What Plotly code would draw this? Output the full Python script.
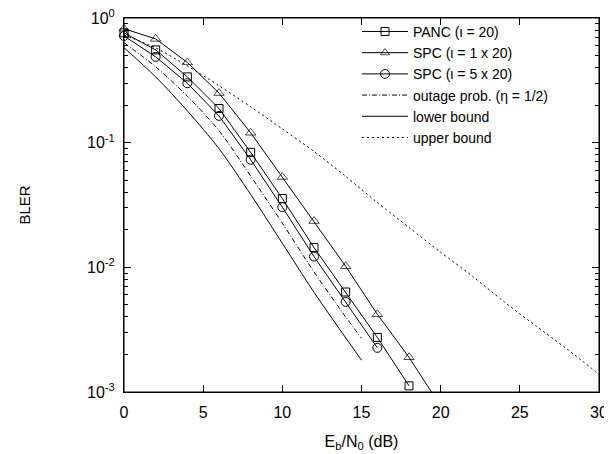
import plotly.graph_objects as go

# ---- data ----
snr_panc = [0, 2, 4, 6, 8, 10, 12, 14, 16, 18]
bler_panc = [0.76, 0.555, 0.337, 0.188, 0.0836, 0.0356, 0.0144, 0.00634, 0.00274, 0.00112]

snr_spc1 = [0, 2, 4, 6, 8, 10, 12, 14, 16, 18, 20]
bler_spc1 = [0.82, 0.68, 0.44, 0.25, 0.12, 0.053, 0.0235, 0.0102, 0.0042, 0.0019, 0.00077]

snr_spc5 = [0, 2, 4, 6, 8, 10, 12, 14, 16]
bler_spc5 = [0.718, 0.488, 0.30, 0.164, 0.073, 0.0304, 0.0122, 0.00528, 0.00226]

snr_bound = [0, 2, 4, 6, 8, 10, 12, 14, 15]
bler_outage = [0.634, 0.406, 0.236, 0.125, 0.054, 0.0226, 0.0092, 0.0040, 0.0027]
bler_lower = [0.578, 0.337, 0.180, 0.0895, 0.0384, 0.0156, 0.00631, 0.00272, 0.0018]

snr_upper = [0, 2, 4, 6, 8, 10, 12, 14, 16, 18, 20, 22, 24, 26, 28, 30]
bler_upper = [0.73, 0.575, 0.413, 0.286, 0.194, 0.129, 0.085, 0.0537, 0.0331,
              0.0209, 0.0132, 0.0085, 0.0053, 0.0034, 0.0022, 0.00139]

x_ticks = [0, 5, 10, 15, 20, 25, 30]
y_ticks = [1, 0.1, 0.01, 0.001]
y_ticktext = ["10<sup>0</sup>", "10<sup>-1</sup>", "10<sup>-2</sup>", "10<sup>-3</sup>"]

names = ["PANC (\u03b9 = 20)", "SPC (\u03b9 = 1 x 20)", "SPC (\u03b9 = 5 x 20)",
         "outage prob. (\u03b7 = 1/2)", "lower bound", "upper bound"]

FONT = "Liberation Sans, Arial, Helvetica, sans-serif"
BLACK = "#000000"

fig = go.Figure()

def marker_trace(x, y, name, symbol, sizes):
    return go.Scatter(
        x=x, y=y, name=name, mode="lines+markers",
        line=dict(color=BLACK, width=1),
        marker=dict(symbol=symbol, size=sizes, color=BLACK,
                    line=dict(color=BLACK, width=1)),
        cliponaxis=False,
    )

fig.add_trace(marker_trace(snr_panc, bler_panc, names[0], "square-open", 8))
spc1_sizes = [9 if v >= 0.001 else 0 for v in bler_spc1]
fig.add_trace(marker_trace(snr_spc1, bler_spc1, names[1], "triangle-up-open", spc1_sizes))
fig.add_trace(marker_trace(snr_spc5, bler_spc5, names[2], "circle-open", 9))

fig.add_trace(go.Scatter(x=snr_bound, y=bler_outage, name=names[3], mode="lines",
                         line=dict(color=BLACK, width=1, dash="5px,2px,1px,2px",
                                   shape="spline", smoothing=0.8)))
fig.add_trace(go.Scatter(x=snr_bound, y=bler_lower, name=names[4], mode="lines",
                         line=dict(color=BLACK, width=1, shape="spline", smoothing=0.8)))
fig.add_trace(go.Scatter(x=snr_upper, y=bler_upper, name=names[5], mode="lines",
                         line=dict(color=BLACK, width=1, dash="2px,3px",
                                   shape="spline", smoothing=0.8)))

minor_vals = [m * 10.0 ** e for e in (-3, -2, -1) for m in range(2, 10)]

fig.update_layout(
    width=612, height=454,
    margin=dict(l=116, r=21, t=9, b=70),
    paper_bgcolor="white", plot_bgcolor="white",
    font=dict(family=FONT, color=BLACK, size=15),
    showlegend=True,
    legend=dict(x=0.4905, xanchor="left", y=1.003, yanchor="top",
                bgcolor="rgba(0,0,0,0)", font=dict(family=FONT, size=14, color=BLACK),
                tracegroupgap=0, itemwidth=46),
    # plot frame
    shapes=[dict(type="rect", xref="paper", yref="paper", x0=0, x1=1, y0=0, y1=1,
                 line=dict(color=BLACK, width=1), layer="above")],
    xaxis=dict(
        range=[0, 30], tickmode="array", tickvals=x_ticks, automargin=False,
        ticks="inside", ticklen=7, tickcolor=BLACK, tickwidth=1,
        showline=True, linecolor=BLACK, linewidth=1, mirror="ticks",
        showgrid=False, zeroline=False, ticklabelstandoff=6,
        ticklabeloverflow="allow",
        tickfont=dict(family=FONT, size=16, color=BLACK),
        title=dict(text="E<sub>b</sub>/N<sub>0</sub> (dB)", standoff=15,
                   font=dict(family=FONT, size=16, color=BLACK)),
    ),
    yaxis=dict(
        type="log", range=[-3, 0], tickmode="array", tickvals=y_ticks, ticktext=y_ticktext,
        automargin=False, ticklabeloverflow="allow",
        ticks="inside", ticklen=7, tickcolor=BLACK, tickwidth=1,
        showline=True, linecolor=BLACK, linewidth=1, mirror="ticks",
        showgrid=False, zeroline=False, ticklabelstandoff=5,
        tickfont=dict(family=FONT, size=16, color=BLACK),
        minor=dict(tickmode="array", tickvals=minor_vals, ticks="inside", ticklen=4,
                   tickcolor=BLACK, tickwidth=1, showgrid=False),
        title=dict(text="BLER", standoff=52, font=dict(family=FONT, size=15, color=BLACK)),
    ),
)

fig.write_html("out.html")
